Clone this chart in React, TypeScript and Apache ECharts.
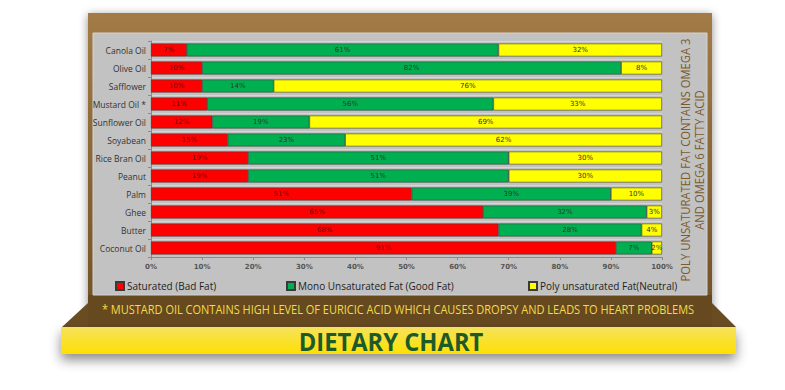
import React, { useEffect, useRef } from "react";
import * as echarts from "echarts";

const categories = [
  "Canola Oil", "Olive Oil", "Safflower", "Mustard Oil *", "Sunflower Oil", "Soyabean",
  "Rice Bran Oil", "Peanut", "Palm", "Ghee", "Butter", "Coconut Oil",
];
const saturated = [7, 10, 10, 11, 12, 15, 19, 19, 51, 65, 68, 91];
const mono = [61, 82, 14, 56, 19, 23, 51, 51, 39, 32, 28, 7];
const poly = [32, 8, 76, 33, 69, 62, 30, 30, 10, 3, 4, 2];
const seriesNames = ["Saturated (Bad Fat)", "Mono Unsaturated Fat (Good Fat)", "Poly unsaturated Fat(Neutral)"];
const seriesColors = ["#ff0000", "#00b050", "#ffff00"];
const noteText = "* MUSTARD OIL CONTAINS HIGH LEVEL OF EURICIC ACID WHICH CAUSES DROPSY AND LEADS TO HEART PROBLEMS";
const sideText = "POLY UNSATURATED FAT CONTAINS OMEGA 3\nAND OMEGA 6 FATTY ACID";
const titleText = "DIETARY CHART";

const sans = "'Open Sans', sans-serif";
const legendLefts = [110, 281, 523];

export default function App() {
  const ref = useRef<HTMLDivElement>(null);
  useEffect(() => {
    document.body.style.margin = "0";
    const chart = echarts.init(ref.current!, null, { renderer: "svg" });
    const values = [saturated, mono, poly];
    chart.setOption({
      animation: false,
      backgroundColor: "#ffffff",
      graphic: [
        {
          type: "rect", z: -10, silent: true,
          shape: { x: 88, y: 13, width: 624, height: 314 },
          style: {
            fill: new echarts.graphic.LinearGradient(0, 0, 0, 1, [
              { offset: 0, color: "#a37b45" },
              { offset: 1, color: "#6e5026" },
            ]),
            shadowBlur: 10, shadowColor: "rgba(0,0,0,0.45)", shadowOffsetY: 2,
          },
        },
        { type: "rect", z: -9, silent: true, shape: { x: 88, y: 295, width: 624, height: 32 }, style: { fill: "#66491f" } },
        { type: "rect", z: -8, silent: true, shape: { x: 93, y: 33, width: 614, height: 262 }, style: { fill: "#c2c2c2", stroke: "#d4d4d4", lineWidth: 1 } },
        { type: "polygon", z: -9, silent: true, shape: { points: [[88, 303], [88, 327], [62, 327]] }, style: { fill: "#6a4c22" } },
        { type: "polygon", z: -9, silent: true, shape: { points: [[712, 303], [736, 327], [712, 327]] }, style: { fill: "#6a4c22" } },
        {
          type: "rect", z: -7, silent: true,
          shape: { x: 61, y: 327, width: 675, height: 27 },
          style: {
            fill: new echarts.graphic.LinearGradient(0, 0, 0, 1, [
              { offset: 0, color: "#f4e25e" },
              { offset: 1, color: "#ffe000" },
            ]),
            shadowBlur: 12, shadowColor: "rgba(0,0,0,0.45)", shadowOffsetY: 6,
          },
        },
        {
          type: "text", z: 5, silent: true, x: 398, y: 309, scaleX: 0.815,
          style: { text: noteText, fill: "#f2dc48", font: `13.5px ${sans}`, align: "center", verticalAlign: "middle" },
        },
        {
          type: "text", z: 5, silent: true, x: 391, y: 341, scaleX: 0.95,
          style: { text: titleText, fill: "#1d5a2a", font: `bold 25px ${sans}`, align: "center", verticalAlign: "middle" },
        },
        {
          type: "text", z: 5, silent: true, x: 692, y: 160, rotation: Math.PI / 2, scaleX: 0.94,
          style: { text: sideText, fill: "#7b5a2c", font: `12px ${sans}`, align: "center", verticalAlign: "middle", lineHeight: 14 },
        },
      ],
      legend: seriesNames.map((name, i) => ({
        left: legendLefts[i], top: 276, itemWidth: 8, itemHeight: 8, icon: "rect",
        textStyle: { fontSize: 10, color: "#222", fontFamily: sans, padding: [0, 0, 0, -2] },
        data: [name],
      })),
      grid: { left: 151, right: 123, top: 41, bottom: 133 },
      xAxis: {
        type: "value", min: 0, max: 100, interval: 10,
        axisLabel: { formatter: "{value}%", fontSize: 7, fontWeight: "bold", color: "#555", margin: 6, fontFamily: "'DejaVu Sans', sans-serif" },
        axisLine: { show: true, lineStyle: { color: "#8a8a8a" } },
        axisTick: { show: true, length: 3, lineStyle: { color: "#8a8a8a" } },
        splitLine: { show: false },
      },
      yAxis: {
        type: "category", data: categories, inverse: true,
        axisLabel: { fontSize: 8.5, color: "#333", margin: 5, fontFamily: sans },
        axisLine: { show: true, lineStyle: { color: "#8a8a8a" } },
        axisTick: { show: true, length: 3, lineStyle: { color: "#8a8a8a" } },
        splitLine: { show: true, lineStyle: { color: "#d6d6d6", width: 1 } },
      },
      series: seriesNames.map((name, i) => ({
        name, type: "bar", stack: "total", barWidth: "72%", z: 3,
        data: values[i],
        itemStyle: { color: seriesColors[i], borderColor: "#3a3a3a", borderWidth: 0.6 },
        label: {
          show: true, position: "inside", formatter: "{c}%", fontSize: 7, color: i === 0 ? "#5a1010" : "#333",
          fontFamily: "'DejaVu Sans', sans-serif",
        },
      })),
    });
    return () => chart.dispose();
  }, []);
  return <div ref={ref} style={{ width: 785, height: 390 }} />;
}
